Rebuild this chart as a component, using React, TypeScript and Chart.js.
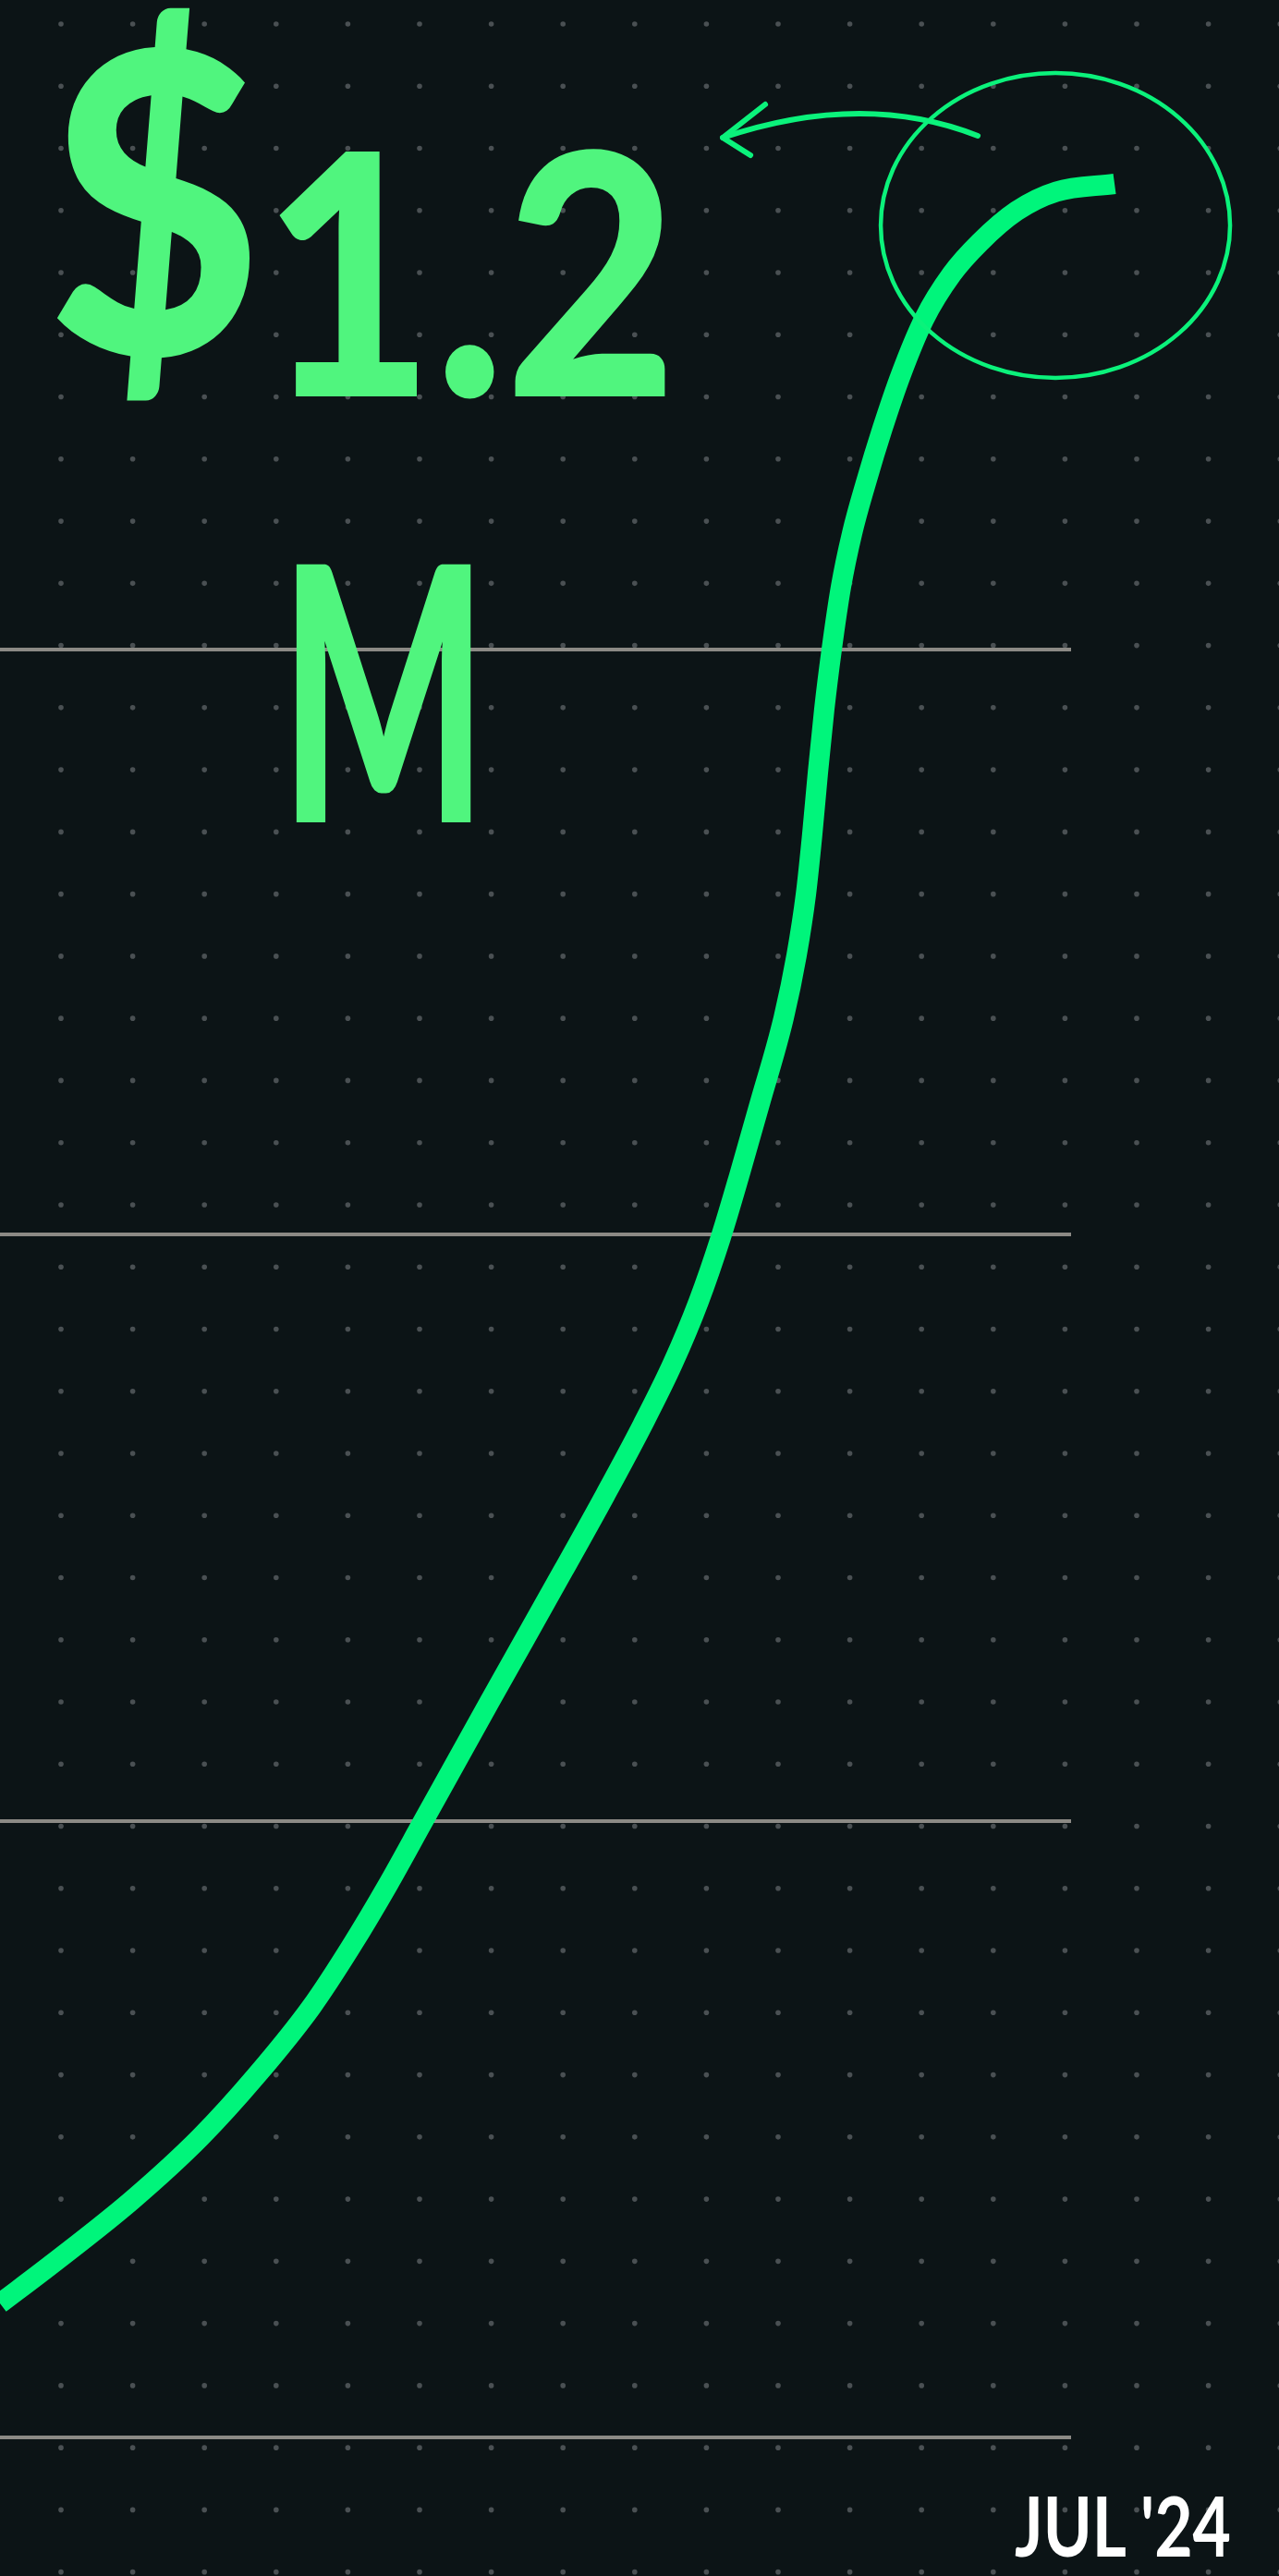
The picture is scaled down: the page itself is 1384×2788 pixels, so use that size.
import React, { useEffect, useRef } from "react";
import { Chart, registerables } from "chart.js";

Chart.register(...registerables);

// ---- data ----
// x: weeks since start (chart runs 0..100, the final point sits just past it)
const weeks = [
  0, 4.92, 12.34, 18.72, 23.9, 29.08, 32.79, 36.24, 39.52, 45.73, 52.63, 56.51,
  59.97, 62.81, 65.23, 67.3, 69.03, 70.92, 73.17, 74.37, 75.24, 75.84, 76.36,
  76.96, 77.65, 78.52, 79.55, 80.85, 82.4, 84.12, 86.28, 88.87, 91.46, 94.91,
  98.62, 104.06,
];
// y: revenue in $K
const revenueK = [
  71.3, 92.6, 126.4, 159.9, 192.4, 229.3, 261.5, 294.5, 328.2, 391.9, 462.0,
  501.9, 538.9, 571.8, 604.9, 639.1, 672.1, 710.0, 756.0, 789.1, 821.6, 853.9,
  886.4, 920.2, 952.0, 985.5, 1013.8, 1040.9, 1069.9, 1098.5, 1128.0, 1152.0,
  1168.7, 1185.5, 1195.8, 1200,
];
// horizontal guide lines ($K)
const gridValues = [0, 328.2, 640.6, 952.0];

const headlineSymbol = "$";
const headlineValue = "1.2";
const headlineUnit = "M";
const endLabel = "JUL '24";

const W = 1384;
const H = 2788;
const BG = "#0c1416";
const LINE = "#00f57b";
const TEXT_GREEN = "#50f57e";
const GRID = "#8c8a85";

export default function App() {
  const ref = useRef<HTMLCanvasElement | null>(null);

  useEffect(() => {
    document.body.style.margin = "0";
    document.body.style.background = BG;
    const canvas = ref.current;
    if (!canvas) return;

    const bgPlugin = {
      id: "bgDots",
      beforeDraw(chart: any) {
        const { ctx, width, height } = chart;
        ctx.save();
        ctx.fillStyle = BG;
        ctx.fillRect(0, 0, width, height);
        ctx.fillStyle = "#4a5053";
        for (let j = 0; j < 45; j++) {
          const y = 26 + j * 67.26;
          if (y > height + 5) break;
          for (let i = -1; i < 20; i++) {
            const x = 66 + i * 77.6;
            if (x > width + 5) break;
            ctx.beginPath();
            ctx.arc(x, y, 2.8, 0, Math.PI * 2);
            ctx.fill();
          }
        }
        ctx.restore();
      },
    };

    const annotationPlugin = {
      id: "circleArrow",
      afterDatasetsDraw(chart: any) {
        const meta = chart.getDatasetMeta(0);
        const pt = meta.data[meta.data.length - 1];
        if (!pt) return;
        const px = pt.x;
        const py = pt.y;
        const ctx = chart.ctx;
        ctx.save();
        ctx.strokeStyle = "#0bf27b";
        ctx.lineWidth = 4.5;
        ctx.beginPath();
        ctx.ellipse(px - 64, py + 45, 189, 165, 0, 0, Math.PI * 2);
        ctx.stroke();
        ctx.lineWidth = 6;
        ctx.lineCap = "round";
        ctx.lineJoin = "round";
        ctx.beginPath();
        ctx.moveTo(px - 148, py - 52);
        ctx.quadraticCurveTo(px - 272, py - 101, px - 424, py - 50);
        ctx.stroke();
        ctx.beginPath();
        ctx.moveTo(px - 378, py - 86);
        ctx.lineTo(px - 424, py - 50);
        ctx.lineTo(px - 394, py - 31);
        ctx.stroke();
        ctx.restore();
      },
    };

    const chart = new Chart(canvas, {
      type: "line",
      data: {
        datasets: [
          {
            data: weeks.map((x, i) => ({ x, y: revenueK[i] })),
            borderColor: LINE,
            borderWidth: 22,
            pointRadius: 0,
            pointHoverRadius: 0,
            cubicInterpolationMode: "monotone",
            fill: false,
            clip: false,
            borderCapStyle: "butt",
            borderJoinStyle: "round",
          } as any,
        ],
      },
      options: {
        responsive: false,
        animation: false,
        devicePixelRatio: 1,
        events: [],
        elements: { line: { capBezierPoints: false } },
        layout: {
          padding: { left: 0, right: W - 1159, top: 199, bottom: H - 2638 },
        },
        plugins: {
          legend: { display: false },
          tooltip: { enabled: false },
          title: { display: false },
        },
        scales: {
          x: { type: "linear", min: 0, max: 100, display: false },
          y: {
            type: "linear",
            min: 0,
            max: 1200,
            display: true,
            border: { display: false },
            ticks: { display: false },
            grid: { color: GRID, lineWidth: 4, drawTicks: false },
            afterBuildTicks: (scale: any) => {
              scale.ticks = gridValues.map((v) => ({ value: v }));
            },
          },
        },
      } as any,
      plugins: [bgPlugin, annotationPlugin],
    });

    return () => chart.destroy();
  }, []);

  return (
    <div style={{ position: "relative", width: W, height: H, background: BG, overflow: "hidden" }}>
      <canvas
        ref={ref}
        width={W}
        height={H}
        style={{ position: "absolute", left: 0, top: 0, display: "block", width: W, height: H }}
      />
      <svg
        width={W}
        height={H}
        style={{ position: "absolute", left: 0, top: 0, pointerEvents: "none" }}
      >
        <text
          x={51}
          y={429}
          fill={TEXT_GREEN}
          fontFamily="Lato, 'Open Sans', sans-serif"
          fontWeight={900}
          fontSize={365}
          textLength={682}
          lengthAdjust="spacingAndGlyphs"
        >
          <tspan fontSize={455} dy={-45}>
            {headlineSymbol}
          </tspan>
          <tspan dy={45}>{headlineValue}</tspan>
        </text>
        <text
          x={303}
          y={890}
          fill={TEXT_GREEN}
          fontFamily="Lato, 'Open Sans', sans-serif"
          fontWeight={900}
          fontSize={385}
          textLength={224}
          lengthAdjust="spacingAndGlyphs"
        >
          {headlineUnit}
        </text>
        <text
          x={1098}
          y={2767}
          fill="#ffffff"
          fontFamily="Lato, 'Open Sans', sans-serif"
          fontWeight={700}
          fontSize={89}
          textLength={234}
          lengthAdjust="spacingAndGlyphs"
        >
          {endLabel}
        </text>
      </svg>
    </div>
  );
}
